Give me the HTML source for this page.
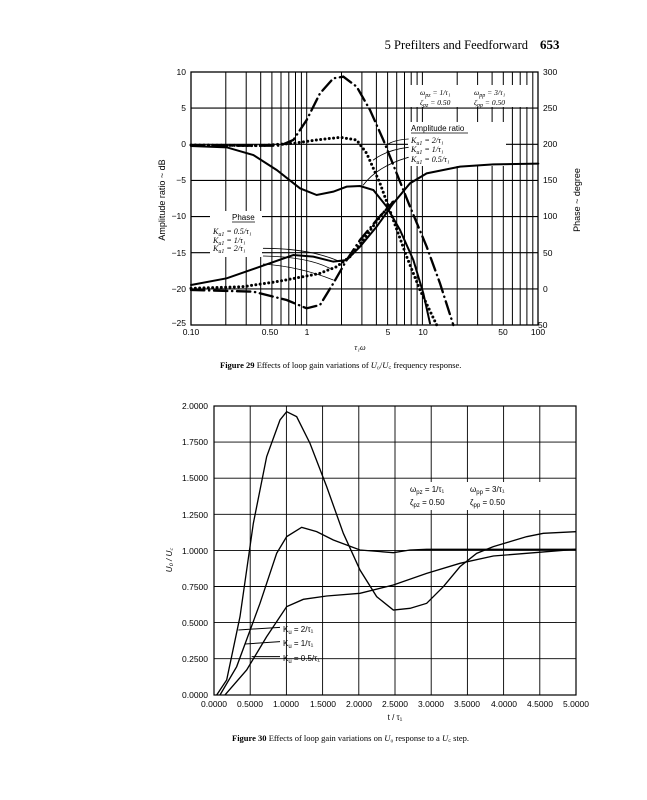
<!DOCTYPE html>
<html><head><meta charset="utf-8"><style>
body{margin:0;background:#fff;width:647px;height:800px;overflow:hidden}
svg{display:block}
text{font-family:"Liberation Sans",sans-serif;fill:#000}
.s{font-family:"Liberation Serif",serif}
</style></head><body>
<svg width="647" height="800" viewBox="0 0 647 800">
<text x="528" y="49" class="s" font-size="12.5" text-anchor="end">5   Prefilters and Feedforward</text>
<text x="540" y="49" class="s" font-size="13" font-weight="bold">653</text>

<!-- TOP CHART -->
<g stroke="#000" stroke-width="1.1" fill="none">
<rect x="191" y="72" width="347" height="253" stroke-width="1.3"/>
<line x1="191" y1="108.1" x2="538" y2="108.1"/>
<line x1="191" y1="144.3" x2="538" y2="144.3"/>
<line x1="191" y1="180.4" x2="538" y2="180.4"/>
<line x1="191" y1="216.6" x2="538" y2="216.6"/>
<line x1="191" y1="252.7" x2="538" y2="252.7"/>
<line x1="191" y1="288.9" x2="538" y2="288.9"/>
</g>
<g stroke="#000" stroke-width="1">
<line x1="225.8" y1="72" x2="225.8" y2="325"/><line x1="246.2" y1="72" x2="246.2" y2="325"/>
<line x1="260.7" y1="72" x2="260.7" y2="325"/><line x1="271.9" y1="72" x2="271.9" y2="325"/>
<line x1="281" y1="72" x2="281" y2="325"/><line x1="288.8" y1="72" x2="288.8" y2="325"/>
<line x1="295.5" y1="72" x2="295.5" y2="325"/><line x1="301.4" y1="72" x2="301.4" y2="325"/>
<line x1="306.7" y1="72" x2="306.7" y2="325"/><line x1="341.5" y1="72" x2="341.5" y2="325"/>
<line x1="361.9" y1="72" x2="361.9" y2="325"/><line x1="376.4" y1="72" x2="376.4" y2="325"/>
<line x1="387.6" y1="72" x2="387.6" y2="325"/><line x1="396.7" y1="72" x2="396.7" y2="325"/>
<line x1="404.5" y1="72" x2="404.5" y2="325"/><line x1="411.2" y1="72" x2="411.2" y2="325"/>
<line x1="417.1" y1="72" x2="417.1" y2="325"/><line x1="422.4" y1="72" x2="422.4" y2="325"/>
<line x1="457.2" y1="72" x2="457.2" y2="325"/><line x1="477.6" y1="72" x2="477.6" y2="325"/>
<line x1="492.1" y1="72" x2="492.1" y2="325"/><line x1="503.3" y1="72" x2="503.3" y2="325"/>
<line x1="512.4" y1="72" x2="512.4" y2="325"/><line x1="520.2" y1="72" x2="520.2" y2="325"/>
<line x1="526.9" y1="72" x2="526.9" y2="325"/><line x1="532.8" y1="72" x2="532.8" y2="325"/>
</g>
<rect x="408" y="85" width="122" height="22" fill="#fff"/>
<rect x="408" y="122" width="98" height="44" fill="#fff"/>
<rect x="210" y="211" width="52" height="46" fill="#fff"/>
<g transform="translate(160,60) scale(0.33333)" fill="none" stroke="#000" stroke-linecap="round">
<polyline stroke-width="6" points="93,258 200,262 280,285 350,330 420,385 470,405 520,395 560,380 600,378 640,390 680,440 720,510 760,600 790,700 810,790"/>
<polyline stroke-width="9" stroke-dasharray="0,13" points="93,255 300,257 400,250 470,240 540,232 590,240 620,280 660,370 700,480 740,590 780,690 830,795"/>
<polyline stroke-width="7" stroke-dasharray="40,14,1,14" points="93,257 360,257 400,240 440,180 480,100 520,55 550,50 590,80 630,150 670,240 710,340 750,440 800,560 840,670 880,795"/>
<polyline stroke-width="6" points="93,675 200,655 300,620 400,585 460,590 520,605 560,600 600,560 650,500 700,430 750,370 800,340 900,320 1000,313 1135,311"/>
<polyline stroke-width="9" stroke-dasharray="0,13" points="93,685 250,680 350,665 430,650 480,640 530,620 570,590 610,540 660,470 700,425"/>
<polyline stroke-width="7" stroke-dasharray="40,14,1,14" points="93,690 280,695 380,720 440,745 480,735 520,670 560,600 600,540 650,480 700,425"/>
<g stroke-width="2.5">
<path d="M745,237 Q700,240 680,255"/><path d="M745,262 Q680,270 640,300"/><path d="M745,292 Q650,320 610,375"/>
<path d="M310,565 Q450,565 540,605"/><path d="M310,588 Q440,590 510,625"/><path d="M310,612 Q420,620 520,660"/>
</g>
</g>
<g font-size="8.5" fill="#000">
<text x="186" y="75" text-anchor="end">10</text>
<text x="186" y="111" text-anchor="end">5</text>
<text x="186" y="147" text-anchor="end">0</text>
<text x="186" y="183" text-anchor="end">−5</text>
<text x="186" y="219" text-anchor="end">−10</text>
<text x="186" y="256" text-anchor="end">−15</text>
<text x="186" y="292" text-anchor="end">−20</text>
<text x="186" y="326" text-anchor="end">−25</text>
<text x="543" y="75">300</text><text x="543" y="111">250</text><text x="543" y="147">200</text>
<text x="543" y="183">150</text><text x="543" y="219">100</text><text x="543" y="256">50</text>
<text x="543" y="292">0</text><text x="538" y="328">50</text>
<text x="191" y="335" text-anchor="middle">0.10</text>
<text x="270" y="335" text-anchor="middle">0.50</text>
<text x="307" y="335" text-anchor="middle">1</text>
<text x="388" y="335" text-anchor="middle">5</text>
<text x="423" y="335" text-anchor="middle">10</text>
<text x="503" y="335" text-anchor="middle">50</text>
<text x="538" y="335" text-anchor="middle">100</text>
<text x="360" y="350" text-anchor="middle" font-size="8" class="s" font-style="italic">τ₁ω</text>
<text x="420" y="95" font-size="7.5" class="s" font-style="italic">ω<tspan font-size="6" dy="2">pz</tspan><tspan dy="-2"> = 1/τ₁</tspan></text>
<text x="474" y="95" font-size="7.5" class="s" font-style="italic">ω<tspan font-size="6" dy="2">pp</tspan><tspan dy="-2"> = 3/τ₁</tspan></text>
<text x="420" y="105" font-size="7.5" class="s" font-style="italic">ζ<tspan font-size="6" dy="2">pz</tspan><tspan dy="-2"> = 0.50</tspan></text>
<text x="474" y="105" font-size="7.5" class="s" font-style="italic">ζ<tspan font-size="6" dy="2">pp</tspan><tspan dy="-2"> = 0.50</tspan></text>
<text x="411" y="131" font-size="8">Amplitude ratio</text>
<line x1="411" y1="133" x2="468" y2="133" stroke="#000" stroke-width="0.8"/>
<text x="411" y="143" font-size="8" class="s" font-style="italic">K<tspan font-size="6" dy="2">u1</tspan><tspan dy="-2"> = 2/τ₁</tspan></text>
<text x="411" y="152" font-size="8" class="s" font-style="italic">K<tspan font-size="6" dy="2">u1</tspan><tspan dy="-2"> = 1/τ₁</tspan></text>
<text x="411" y="162" font-size="8" class="s" font-style="italic">K<tspan font-size="6" dy="2">u1</tspan><tspan dy="-2"> = 0.5/τ₁</tspan></text>
<text x="232" y="220" font-size="8">Phase</text>
<line x1="232" y1="222" x2="255" y2="222" stroke="#000" stroke-width="0.8"/>
<text x="213" y="234" font-size="8" class="s" font-style="italic">K<tspan font-size="6" dy="2">u1</tspan><tspan dy="-2"> = 0.5/τ₁</tspan></text>
<text x="213" y="243" font-size="8" class="s" font-style="italic">K<tspan font-size="6" dy="2">u1</tspan><tspan dy="-2"> = 1/τ₁</tspan></text>
<text x="213" y="251" font-size="8" class="s" font-style="italic">K<tspan font-size="6" dy="2">u1</tspan><tspan dy="-2"> = 2/τ₁</tspan></text>
<text transform="translate(165,200) rotate(-90)" text-anchor="middle" font-size="9">Amplitude ratio ~ dB</text>
<text transform="translate(580,200) rotate(-90)" text-anchor="middle" font-size="9">Phase ~ degree</text>
</g>
<text x="220" y="368" class="s" font-size="8.5"><tspan font-weight="bold">Figure 29</tspan>   Effects of loop gain variations of <tspan font-style="italic">U</tspan>₀/<tspan font-style="italic">U</tspan>꜀ frequency response.</text>

<!-- BOTTOM CHART -->
<g stroke="#000" stroke-width="0.9">
<line x1="214" y1="442.1" x2="576" y2="442.1"/><line x1="214" y1="478.2" x2="576" y2="478.2"/>
<line x1="214" y1="514.3" x2="576" y2="514.3"/><line x1="214" y1="550.4" x2="576" y2="550.4"/>
<line x1="214" y1="586.5" x2="576" y2="586.5"/><line x1="214" y1="622.6" x2="576" y2="622.6"/>
<line x1="214" y1="658.7" x2="576" y2="658.7"/>
<line x1="250.2" y1="406" x2="250.2" y2="695"/><line x1="286.4" y1="406" x2="286.4" y2="695"/>
<line x1="322.6" y1="406" x2="322.6" y2="695"/><line x1="358.8" y1="406" x2="358.8" y2="695"/>
<line x1="395" y1="406" x2="395" y2="695"/><line x1="431.2" y1="406" x2="431.2" y2="695"/>
<line x1="467.4" y1="406" x2="467.4" y2="695"/><line x1="503.6" y1="406" x2="503.6" y2="695"/>
<line x1="539.8" y1="406" x2="539.8" y2="695"/>
</g>
<rect x="214" y="406" width="362" height="289" fill="none" stroke="#000" stroke-width="1.2"/>
<rect x="403" y="482" width="150" height="28" fill="#fff"/>
<g transform="translate(160,390) scale(0.33333)" fill="none" stroke="#000" stroke-width="4">
<polyline points="170,915 200,870 240,680 280,400 320,200 360,90 380,65 410,80 450,160 500,290 550,430 600,540 650,620 700,660 750,655 800,640 850,590 900,530 950,490 1000,470 1050,455 1100,440 1150,430 1247,425"/>
<polyline points="180,915 230,830 300,640 350,490 380,440 425,412 470,425 520,450 560,465 600,480 700,488 750,480 800,478 1247,478"/>
<polyline points="195,915 260,840 320,740 380,650 430,628 500,618 600,610 700,585 800,550 900,520 1000,498 1100,490 1247,478"/>
<g stroke-width="3"><path d="M360,712 L235,720"/><path d="M360,755 L255,762"/><path d="M360,800 L275,800"/></g>
</g>
<g font-size="8.5">
<text x="208" y="409" text-anchor="end">2.0000</text>
<text x="208" y="445" text-anchor="end">1.7500</text>
<text x="208" y="481" text-anchor="end">1.5000</text>
<text x="208" y="518" text-anchor="end">1.2500</text>
<text x="208" y="554" text-anchor="end">1.0000</text>
<text x="208" y="590" text-anchor="end">0.7500</text>
<text x="208" y="626" text-anchor="end">0.5000</text>
<text x="208" y="662" text-anchor="end">0.2500</text>
<text x="208" y="698" text-anchor="end">0.0000</text>
<g text-anchor="middle">
<text x="214" y="707">0.0000</text><text x="250" y="707">0.5000</text><text x="286" y="707">1.0000</text>
<text x="323" y="707">1.5000</text><text x="359" y="707">2.0000</text><text x="395" y="707">2.5000</text>
<text x="431" y="707">3.0000</text><text x="467" y="707">3.5000</text><text x="504" y="707">4.0000</text>
<text x="540" y="707">4.5000</text><text x="576" y="707">5.0000</text>
<text x="395" y="720" font-size="8">t / τ₁</text>
</g>
<text x="410" y="492" font-size="8">ω<tspan font-size="6" dy="2">pz</tspan><tspan dy="-2"> =  1/τ₁</tspan></text>
<text x="470" y="492" font-size="8">ω<tspan font-size="6" dy="2">pp</tspan><tspan dy="-2"> =  3/τ₁</tspan></text>
<text x="410" y="505" font-size="8">ζ<tspan font-size="6" dy="2">pz</tspan><tspan dy="-2"> = 0.50</tspan></text>
<text x="470" y="505" font-size="8">ζ<tspan font-size="6" dy="2">pp</tspan><tspan dy="-2"> = 0.50</tspan></text>
<text x="283" y="632" font-size="8">K<tspan font-size="6" dy="2">u</tspan><tspan dy="-2">  =   2/τ₁</tspan></text>
<text x="283" y="646" font-size="8">K<tspan font-size="6" dy="2">u</tspan><tspan dy="-2">  =   1/τ₁</tspan></text>
<text x="283" y="661" font-size="8">K<tspan font-size="6" dy="2">u</tspan><tspan dy="-2">  =   0.5/τ₁</tspan></text>
<text transform="translate(172,560) rotate(-90)" text-anchor="middle" font-size="8" font-style="italic">U₀ / U꜀</text>
</g>
<text x="232" y="741" class="s" font-size="8.5"><tspan font-weight="bold">Figure 30</tspan>   Effects of loop gain variations on <tspan font-style="italic">U</tspan>₀ response to a <tspan font-style="italic">U</tspan>꜀ step.</text>
</svg>
</body></html>
